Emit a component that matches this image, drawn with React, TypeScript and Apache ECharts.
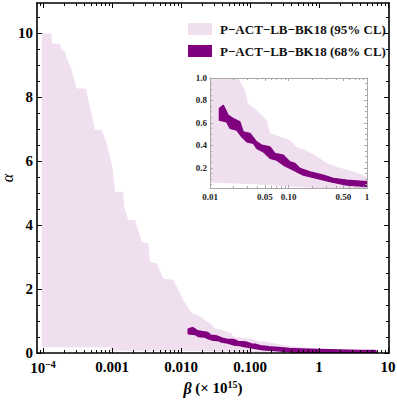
import { useEffect, useRef } from 'react';
import * as echarts from 'echarts';

const NAME_95 = 'P\u2212ACT\u2212LB\u2212BK18 (95% CL)';
const NAME_68 = 'P\u2212ACT\u2212LB\u2212BK18 (68% CL)';

// ---- tick labels ----
const mainXTicks = [1e-4, 1e-3, 1e-2, 1e-1, 1, 10];
const mainXTickLabels = ['10^\u22124', '0.001', '0.010', '0.100', '1', '10'];
const mainYTicks = [0, 2, 4, 6, 8, 10];
const mainYTickLabels = ['0', '2', '4', '6', '8', '10'];
const insetXTicks = [0.01, 0.05, 0.1, 0.5, 1];
const insetXTickLabels = ['0.01', '0.05', '0.10', '0.50', '1'];
const insetYTicks = [0.2, 0.4, 0.6, 0.8, 1.0];
const insetYTickLabels = ['0.2', '0.4', '0.6', '0.8', '1.0'];

// ---- 95% CL region ----
const cl95UpperBeta = [
  9.57e-5, 1.337e-4, 1.337e-4, 1.762e-4, 1.866e-4, 2.084e-4, 2.203e-4, 2.518e-4, 3.076e-4, 4.198e-4,
  4.539e-4, 5.675e-4, 7.096e-4, 8.375e-4, 1.023e-3, 1.104e-3, 1.459e-3, 1.493e-3, 1.722e-3, 2.153e-3,
  2.692e-3, 3.357e-3, 3.556e-3, 4.446e-3, 5.534e-3, 7.727e-3, 1.079e-2, 1.429e-2, 1.706e-2, 2.084e-2,
  2.275e-2, 2.793e-2, 3.048e-2, 3.972e-2, 5.321e-2, 5.808e-2, 8.26e-2, 0.1045, 0.1282, 0.1622,
  0.2307, 0.309, 0.4529, 0.7464, 1.0, 2.0, 4.0, 6.6,
];
const cl95UpperAlpha = [
  9.99, 9.99, 9.68, 9.66, 9.47, 9.42, 9.21, 8.95, 8.27, 8.27,
  7.91, 6.97, 6.97, 6.55, 5.77, 5.04, 5.04, 4.57, 4.16, 4.16,
  3.48, 3.43, 2.85, 2.8, 2.33, 2.28, 1.66, 1.24, 1.19, 1.09,
  1.0, 0.89, 0.77, 0.71, 0.62, 0.51, 0.47, 0.446, 0.38, 0.36,
  0.3, 0.24, 0.2, 0.156, 0.12, 0.09, 0.075, 0.065,
];
const cl95LowerBeta = [9.57e-5, 9.3e-4, 9.3e-4, 1e-2, 3e-2, 0.1, 0.2, 6.6];
const cl95LowerAlpha = [0.18, 0.18, 0.07, 0.07, 0.055, 0.035, 0.02, 0.02];

// ---- 68% CL region ----
const cl68UpperBeta = [
  0.01315, 0.01479, 0.0171, 0.01982, 0.0241, 0.02655, 0.03236, 0.03936, 0.0456, 0.05808,
  0.0673, 0.0859, 0.1045, 0.1211, 0.14, 0.1879, 0.2773, 0.3724, 0.5508, 1.0, 2.0, 4.0, 6.5,
];
const cl68UpperAlpha = [
  0.728, 0.757, 0.668, 0.639, 0.609, 0.52, 0.506, 0.431, 0.402, 0.387,
  0.328, 0.313, 0.253, 0.239, 0.195, 0.164, 0.135, 0.106, 0.091, 0.076, 0.06, 0.05, 0.045,
];
const cl68LowerBeta = [
  0.01315, 0.01629, 0.01799, 0.02188, 0.02535, 0.02938, 0.03565, 0.03936, 0.04775, 0.05808,
  0.07079, 0.0859, 0.1045, 0.1271, 0.1545, 0.2286, 0.3381, 0.5508, 1.0, 2.0, 4.0, 6.5,
];
const cl68LowerAlpha = [
  0.624, 0.609, 0.55, 0.535, 0.476, 0.431, 0.417, 0.372, 0.342, 0.284,
  0.268, 0.224, 0.195, 0.164, 0.135, 0.106, 0.076, 0.046, 0.031, 0.025, 0.02, 0.02,
];

const FONT = "'Liberation Serif', 'Times New Roman', serif";
const PINK = '#efdfef';
const PURPLE = '#800080';

const MAIN_X_MIN = -4.087;
const MAIN_X_MAX = 1.0145;
const MAIN_Y_MIN = 0;
const MAIN_Y_MAX = 10.94;
const INSET_X_MIN = -2;
const INSET_X_MAX = 0;
const INSET_Y_MIN = 0.02;
const INSET_Y_MAX = 1.0;

function xy(betas: number[], alphas: number[]) {
  return betas.map((b, i) => [Math.log10(b), alphas[i]]);
}
function region(ub: number[], ua: number[], lb: number[], la: number[]) {
  return [...xy(ub, ua), ...xy(lb, la).reverse()];
}

function logMinors(kFrom: number, kTo: number, skip: number[], lo: number, hi: number) {
  const out: number[] = [];
  for (let k = kFrom; k <= kTo; k++) {
    for (let m = 2; m <= 9; m++) {
      if (skip.includes(m)) continue;
      const v = Math.log10(m) + k;
      if (v >= lo && v <= hi) out.push(v);
    }
  }
  return out;
}
function linMinors(step: number, n: number, majors: number[], lo: number, hi: number) {
  const out: number[] = [];
  for (let i = 1; i <= n; i++) {
    const v = +(i * step).toFixed(4);
    if (majors.some((m) => Math.abs(m - v) < 1e-9)) continue;
    if (v >= lo && v <= hi) out.push(v);
  }
  return out;
}

function labelFor(ticks: number[], labels: string[], isLog: boolean) {
  return (v: number) => {
    const i = ticks.findIndex((t) => Math.abs((isLog ? Math.log10(t) : t) - v) < 1e-6);
    if (i < 0) return '';
    const s = labels[i];
    const m = s.match(/^(.*)\^(.*)$/);
    return m ? `{b|${m[1]}}{sup|${m[2]}}` : s;
  };
}

function frameAxes(
  grid: number,
  positions: [string, string],
  min: number,
  max: number,
  majors: number[],
  minors: number[],
  lineColor: string,
  lineWidth: number,
  majorLen: number,
  minorLen: number,
  label: any,
  extra: any
) {
  const one = (pos: string, withLine: boolean, ticks: number[], len: number) => ({
    type: 'value',
    gridIndex: grid,
    min,
    max,
    z: 5,
    position: pos,
    splitLine: { show: false },
    axisPointer: { show: false },
    axisLine: { show: withLine, onZero: false, lineStyle: { color: lineColor, width: lineWidth } },
    axisTick: { show: true, inside: true, length: len, customValues: ticks, lineStyle: { color: lineColor, width: 1 } },
    axisLabel: { show: false },
  });
  return [
    { ...one(positions[0], true, majors, majorLen), axisLabel: label, ...extra },
    one(positions[0], false, minors, minorLen),
    one(positions[1], true, majors, majorLen),
    one(positions[1], false, minors, minorLen),
  ];
}

function polySeries(name: string, pts: number[][], axisIndex: number, fill: string, stroke: string | null, lw: number, clip: boolean) {
  return {
    type: 'custom',
    name,
    xAxisIndex: axisIndex,
    yAxisIndex: axisIndex,
    clip,
    silent: true,
    z: 2,
    itemStyle: { color: fill },
    data: pts,
    encode: { x: 0, y: 1 },
    renderItem: (params: any, api: any) => {
      if (params.dataIndex !== 0) return null;
      const points = pts.map((p) => api.coord(p));
      return {
        type: 'polygon',
        shape: { points },
        style: { fill, stroke: stroke || 'none', lineWidth: stroke ? lw : 0, lineJoin: 'round' },
      };
    },
  };
}

export default function App() {
  const ref = useRef<HTMLDivElement>(null);
  useEffect(() => {
    if (!ref.current) return;
    const chart = echarts.init(ref.current, null, { renderer: 'svg' });

    const mainXMaj = mainXTicks.map((t) => Math.log10(t));
    const mainXMin = logMinors(-5, 0, [], MAIN_X_MIN, MAIN_X_MAX);
    const mainYMin = linMinors(0.5, 21, mainYTicks, MAIN_Y_MIN, MAIN_Y_MAX);
    const insetXMaj = insetXTicks.map((t) => Math.log10(t));
    const insetXMin = logMinors(-2, -1, [5], INSET_X_MIN, INSET_X_MAX);
    const insetYMin = linMinors(0.05, 19, insetYTicks, INSET_Y_MIN, INSET_Y_MAX);

    const p95 = region(cl95UpperBeta, cl95UpperAlpha, cl95LowerBeta, cl95LowerAlpha);
    const p68 = region(cl68UpperBeta, cl68UpperAlpha, cl68LowerBeta, cl68LowerAlpha);

    const mainLabelX = {
      show: true,
      customValues: mainXMaj,
      formatter: labelFor(mainXTicks, mainXTickLabels, true),
      margin: 6,
      color: '#000',
      fontFamily: FONT,
      fontSize: 15,
      fontWeight: 'bold',
      rich: {
        b: { fontFamily: FONT, fontSize: 15, fontWeight: 'bold', color: '#000', lineHeight: 18 },
        sup: { fontFamily: FONT, fontSize: 10, fontWeight: 'bold', color: '#000', verticalAlign: 'top', lineHeight: 10 },
      },
    };
    const mainLabelY = {
      show: true,
      customValues: mainYTicks,
      formatter: labelFor(mainYTicks, mainYTickLabels, false),
      margin: 4,
      color: '#000',
      fontFamily: FONT,
      fontSize: 15,
      fontWeight: 'bold',
    };
    const insetLabelX = {
      show: true,
      customValues: insetXMaj,
      formatter: labelFor(insetXTicks, insetXTickLabels, true),
      margin: 4,
      color: '#222',
      fontFamily: FONT,
      fontSize: 9,
      fontWeight: 'bold',
    };
    const insetLabelY = {
      show: true,
      customValues: insetYTicks,
      formatter: labelFor(insetYTicks, insetYTickLabels, false),
      margin: 3,
      color: '#222',
      fontFamily: FONT,
      fontSize: 9,
      fontWeight: 'bold',
    };

    const xAxes = [
      ...frameAxes(0, ['bottom', 'top'], MAIN_X_MIN, MAIN_X_MAX, mainXMaj, mainXMin, '#000', 1.6, 5, 3, mainLabelX, {
        name: '{i|\u03b2} (\u00d7 10{sup|15})',
        nameLocation: 'middle',
        nameGap: 26,
        nameMoveOverlap: false,
        nameTextStyle: {
          fontFamily: FONT,
          fontSize: 15,
          fontWeight: 'bold',
          color: '#000',
          rich: {
            i: { fontFamily: FONT, fontSize: 16, fontStyle: 'italic', fontWeight: 'bold', color: '#000', lineHeight: 18 },
            sup: { fontFamily: FONT, fontSize: 10, fontWeight: 'bold', color: '#000', verticalAlign: 'top', lineHeight: 10 },
          },
        },
      }),
      ...frameAxes(1, ['bottom', 'top'], INSET_X_MIN, INSET_X_MAX, insetXMaj, insetXMin, '#a8a8a8', 1, 3, 2, insetLabelX, {}),
    ];
    const yAxes = [
      ...frameAxes(0, ['left', 'right'], MAIN_Y_MIN, MAIN_Y_MAX, mainYTicks, mainYMin, '#000', 1.6, 5, 3, mainLabelY, {
        name: '\u03b1',
        nameLocation: 'middle',
        nameGap: 23,
        nameRotate: 90,
        nameMoveOverlap: false,
        nameTextStyle: { fontFamily: FONT, fontSize: 16, fontStyle: 'italic', color: '#000', lineHeight: 13 },
      }),
      ...frameAxes(1, ['left', 'right'], INSET_Y_MIN, INSET_Y_MAX, insetYTicks, insetYMin, '#a8a8a8', 1, 3, 2, insetLabelY, {}),
    ];

    chart.setOption({
      animation: false,
      grid: [
        { left: 37, right: 8, top: 3, bottom: 50, containLabel: false, outerBoundsMode: 'none' },
        {
          left: 210,
          top: 78,
          width: 157,
          height: 110,
          containLabel: false,
          outerBoundsMode: 'none',
          show: true,
          backgroundColor: '#fff',
          borderColor: '#a8a8a8',
          borderWidth: 0,
        },
      ],
      legend: {
        orient: 'vertical',
        left: 183,
        top: 16,
        itemWidth: 24,
        itemHeight: 12,
        itemGap: 6,
        selectedMode: false,
        data: [
          { name: NAME_95, icon: 'rect' },
          { name: NAME_68, icon: 'rect' },
        ],
        textStyle: { fontFamily: FONT, fontSize: 13, fontWeight: 'bold', color: '#111', lineHeight: 16, padding: [0, 0, 0, 3] },
      },
      xAxis: xAxes,
      yAxis: yAxes,
      series: [
        polySeries(NAME_95, p95, 0, PINK, null, 0, true),
        polySeries(NAME_68, p68, 0, PURPLE, PURPLE, 3.5, true),
        polySeries(NAME_95, p95, 4, PINK, null, 0, true),
        polySeries(NAME_68, p68, 4, PURPLE, PURPLE, 1.2, true),
      ],
    } as any);

    return () => chart.dispose();
  }, []);

  return <div ref={ref} style={{ position: 'absolute', left: 0, top: 0, width: 397, height: 403 }} />;
}
